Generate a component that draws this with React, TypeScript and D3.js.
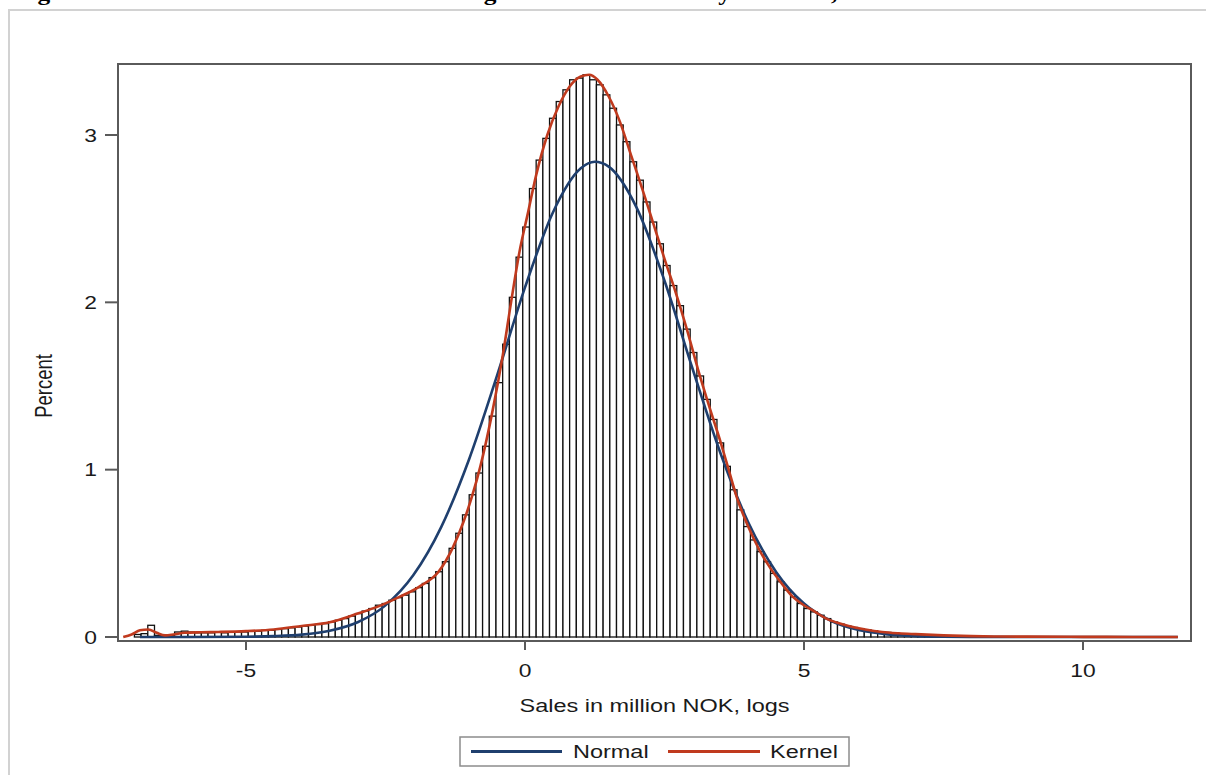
import React from "react";
import * as d3 from "d3";

// Histogram of log sales: bins of equal width starting at BIN_START
const BIN_START = -7.0;
const BIN_WIDTH = 0.12;
const barPercent = [
  0.015, 0.02, 0.07, 0.01, 0.005, 0.01, 0.03, 0.035, 0.03, 0.025,
  0.025, 0.025, 0.03, 0.025, 0.03, 0.03, 0.03, 0.035, 0.035, 0.04,
  0.04, 0.045, 0.05, 0.055, 0.06, 0.065, 0.07, 0.075, 0.08, 0.09,
  0.1, 0.11, 0.125, 0.14, 0.155, 0.17, 0.19, 0.2, 0.22, 0.235,
  0.25, 0.27, 0.295, 0.32, 0.355, 0.39, 0.45, 0.53, 0.62, 0.73,
  0.85, 0.98, 1.14, 1.32, 1.52, 1.75, 2.03, 2.27, 2.45, 2.68,
  2.85, 2.98, 3.1, 3.2, 3.27, 3.33, 3.34, 3.36, 3.33, 3.3,
  3.24, 3.16, 3.06, 2.96, 2.84, 2.73, 2.6, 2.48, 2.35, 2.22,
  2.1, 1.98, 1.84, 1.7, 1.56, 1.42, 1.3, 1.16, 1.02, 0.88,
  0.76, 0.66, 0.58, 0.51, 0.45, 0.38, 0.33, 0.28, 0.24, 0.2,
  0.17, 0.15, 0.13, 0.11, 0.09, 0.077, 0.066, 0.057, 0.05, 0.043,
  0.037, 0.032, 0.027, 0.024, 0.02, 0.018, 0.015, 0.012, 0.01, 0.008,
  0.007, 0.006, 0.005, 0.004, 0.003,
];

// Kernel density estimate (percent scale)
const kernelX = [
  -7.2, -7.05, -6.9, -6.75, -6.6, -6.45, -6.3, -6.1, -5.8, -5.5, -5.0, -4.5, -4.0,
  -3.5, -3.0, -2.65, -2.25, -1.9, -1.55, -1.3, -1.1, -0.95, -0.8, -0.6, -0.4,
  -0.25, -0.1, 0.05, 0.2, 0.4, 0.6, 0.8, 1.0, 1.15, 1.3, 1.5, 1.7, 1.9, 2.1,
  2.3, 2.5, 2.7, 2.9, 3.1, 3.3, 3.5, 3.65, 3.8, 4.0, 4.2, 4.4, 4.6, 4.8, 5.0,
  5.2, 5.4, 5.6, 5.8, 6.1, 6.4, 6.7, 7.0, 7.5, 8.0, 8.5, 9.0, 10.0, 11.0, 11.7,
];
const kernelY = [
  0.0, 0.015, 0.04, 0.045, 0.025, 0.01, 0.015, 0.025, 0.028, 0.03, 0.035, 0.045, 0.066,
  0.088, 0.14, 0.18, 0.24, 0.3, 0.39, 0.53, 0.69, 0.84, 1.02, 1.32, 1.68,
  2.0, 2.3, 2.53, 2.76, 3.0, 3.17, 3.29, 3.35, 3.36, 3.33, 3.23, 3.08, 2.88, 2.68,
  2.47, 2.26, 2.06, 1.84, 1.6, 1.38, 1.17, 1.0, 0.83, 0.66, 0.52, 0.41, 0.32, 0.24, 0.19,
  0.15, 0.11, 0.085, 0.066, 0.045, 0.03, 0.022, 0.017, 0.01, 0.005, 0.003, 0.002, 0.001, 0.0, 0.0,
];

// Fitted normal density (percent scale)
const normalX = [
  -6.9, -6, -5, -4.5, -4, -3.5, -3, -2.5, -2, -1.5, -1, -0.5, 0, 0.5, 1, 1.25,
  1.5, 2, 2.5, 3, 3.5, 4, 4.5, 5, 5.5, 6, 6.5, 7, 7.5, 8, 9, 11.7,
];
const normalY = [
  0, 0.0001, 0.0016, 0.005, 0.014, 0.037, 0.088, 0.189, 0.37, 0.658, 1.064, 1.563,
  2.089, 2.537, 2.801, 2.84, 2.811, 2.566, 2.129, 1.606, 1.101, 0.686, 0.389, 0.2,
  0.094, 0.04, 0.0155, 0.0055, 0.0017, 0.0005, 0, 0,
];

const xTicks = [-5, 0, 5, 10];
const yTicks = [0, 1, 2, 3];

const caption =
  "Figure 1: Distribution of sales in the Norwegian business sector by firm size, 2015";
const xTitle = "Sales in million NOK, logs";
const yTitle = "Percent";
const legendItems = ["Normal", "Kernel"];

const W = 1206;
const H = 775;
const NAVY = "#1f3f6e";
const RED = "#c03a1e";
const AXIS = "#5a5a5a";
const TEXT = "#1a1a1a";
const SX = 1.27; // horizontal text stretch
const FONT = "'Liberation Sans', Arial, sans-serif";

export default function App() {
  const x = d3.scaleLinear().domain([-5, 10]).range([246, 1083]);
  const y = d3.scaleLinear().domain([0, 3]).range([637, 135]);

  const box = { left: 118, top: 64, right: 1191, bottom: 641 };

  const line = d3
    .line<[number, number]>()
    .x((d) => x(d[0]))
    .y((d) => y(d[1]))
    .curve(d3.curveMonotoneX);

  const kernelPath = line(kernelX.map((v, i) => [v, kernelY[i]]) as [number, number][]);
  const normalPath = line(normalX.map((v, i) => [v, normalY[i]]) as [number, number][]);

  const legendY = 751.5;

  return (
    <div style={{ position: "absolute", left: 0, top: 0 }}>
      <svg width={W} height={H} style={{ display: "block", background: "#fff" }}>
        {/* caption line running off the top edge */}
        <text
          transform={`translate(15,0) scale(${SX},1)`}
          fontFamily="'Liberation Serif', 'Times New Roman', serif"
          fontWeight="bold"
          fontSize={20}
          fill="#000"
        >
          {caption}
        </text>

        {/* outer graph frame */}
        <rect x={9} y={10} width={W} height={H} fill="none" stroke="#d2d2d2" strokeWidth={2} />

        {/* histogram bars */}
        <g>
          {barPercent.map((v, i) => {
            const x0 = BIN_START + i * BIN_WIDTH;
            const x1 = x0 + BIN_WIDTH;
            return (
              <rect
                key={i}
                x={x(x0)}
                y={y(v)}
                width={x(x1) - x(x0)}
                height={y(0) - y(v)}
                fill="#fff"
                stroke="#111"
                strokeWidth={1.3}
              />
            );
          })}
        </g>

        {/* density curves */}
        <path d={normalPath ?? ""} fill="none" stroke={NAVY} strokeWidth={2.6} />
        <path d={kernelPath ?? ""} fill="none" stroke={RED} strokeWidth={2.6} />

        {/* plot box */}
        <rect
          x={box.left}
          y={box.top}
          width={box.right - box.left}
          height={box.bottom - box.top}
          fill="none"
          stroke={AXIS}
          strokeWidth={2}
        />

        {/* y axis ticks and labels */}
        {yTicks.map((t) => (
          <g key={t}>
            <line x1={105} x2={box.left} y1={y(t)} y2={y(t)} stroke={AXIS} strokeWidth={2} />
            <text
              transform={`translate(97,${y(t) + 6.5}) scale(${SX},1)`}
              textAnchor="end"
              fontFamily={FONT}
              fontSize={18}
              fill={TEXT}
            >
              {t}
            </text>
          </g>
        ))}

        {/* x axis ticks and labels */}
        {xTicks.map((t) => (
          <g key={t}>
            <line x1={x(t)} x2={x(t)} y1={box.bottom} y2={650} stroke={AXIS} strokeWidth={2} />
            <text
              transform={`translate(${x(t)},677) scale(${SX},1)`}
              textAnchor="middle"
              fontFamily={FONT}
              fontSize={18}
              fill={TEXT}
            >
              {t}
            </text>
          </g>
        ))}

        {/* axis titles */}
        <text
          transform={`translate(${(box.left + box.right) / 2},712) scale(${SX},1)`}
          textAnchor="middle"
          fontFamily={FONT}
          fontSize={18.5}
          fill={TEXT}
        >
          {xTitle}
        </text>
        <text
          transform={`translate(52,386) scale(${SX},1) rotate(-90)`}
          textAnchor="middle"
          fontFamily={FONT}
          fontSize={18.5}
          fill={TEXT}
        >
          {yTitle}
        </text>

        {/* legend */}
        <rect x={460} y={737} width={389} height={29} fill="#fff" stroke="#8c8c8c" strokeWidth={1.5} />
        <line x1={471} x2={562} y1={legendY} y2={legendY} stroke={NAVY} strokeWidth={3} />
        <text
          transform={`translate(573,758) scale(${SX},1)`}
          fontFamily={FONT}
          fontSize={18.5}
          fill={TEXT}
        >
          {legendItems[0]}
        </text>
        <line x1={668} x2={760} y1={legendY} y2={legendY} stroke={RED} strokeWidth={3} />
        <text
          transform={`translate(770,758) scale(${SX},1)`}
          fontFamily={FONT}
          fontSize={18.5}
          fill={TEXT}
        >
          {legendItems[1]}
        </text>
      </svg>
    </div>
  );
}
